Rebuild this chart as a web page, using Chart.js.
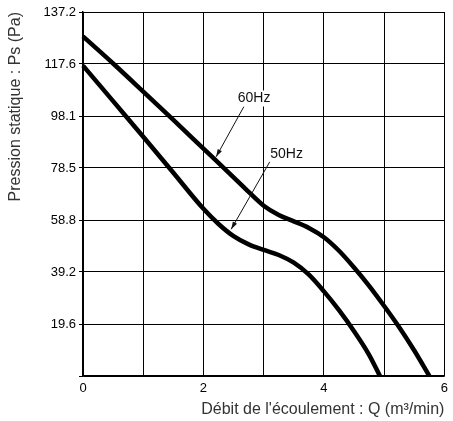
<!DOCTYPE html>
<html>
<head>
<meta charset="utf-8">
<script src="https://cdn.jsdelivr.net/npm/chart.js@4.4.1/dist/chart.umd.min.js"></script>
<style>
  html, body { margin: 0; padding: 0; background: #fff; }
  #wrap { width: 453px; height: 421px; position: relative; }
</style>
</head>
<body>
<div id="wrap"><canvas id="fan-chart"></canvas></div>
<script>
// flow Q (m3/min) and static pressure Ps (Pa)
const q60 = [0, 0.5, 1, 1.5, 2, 2.5, 2.75, 3, 3.25, 3.5, 3.75, 4, 4.25, 4.5, 4.75, 5, 5.25, 5.5, 5.75];
const ps60 = [128, 117.8, 107.2, 96.5, 85.7, 74.9, 69.4, 64.2, 60.7, 58.3, 55.8, 52.3, 47.2, 40.9, 34, 26.4, 18.4, 9.6, 0];

const q50 = [0, 0.5, 1, 1.5, 2, 2.25, 2.5, 2.75, 3, 3.25, 3.5, 3.75, 4, 4.25, 4.5, 4.75, 4.93];
const ps50 = [117, 103.6, 90.2, 76.6, 63, 57.3, 52.7, 49.6, 47.5, 45.6, 42.7, 38.2, 31.9, 24.8, 16.9, 8, 0];

// y gridlines sit every 19.6 Pa, the printed labels are rounded
const yTickValues = [0, 19.6, 39.2, 58.8, 78.4, 98.0, 117.6, 137.2];
const yTickLabels = ["", "19.6", "39.2", "58.8", "78.5", "98.1", "117.6", "137.2"];
const xTickLabels = { 0: "0", 2: "2", 4: "4", 6: "6" };

// callouts: label position, arrow start, arrow tip (data coords)
const callouts = [
  { text: "60Hz", label: [2.84, 104.6], from: [2.67, 101.5], to: [2.21, 82.6] },
  { text: "50Hz", label: [3.38, 83.7], from: [3.10, 80.7], to: [2.46, 55.3] },
];

const FONT = "'Liberation Sans', Arial, sans-serif";

const toPoints = (xs, ys) => xs.map((x, i) => ({ x: x, y: ys[i] }));

const calloutPlugin = {
  id: "callouts",
  afterDatasetsDraw(chart) {
    const { ctx, scales } = chart;
    const px = (p) => [scales.x.getPixelForValue(p[0]), scales.y.getPixelForValue(p[1])];
    ctx.save();
    callouts.forEach((c) => {
      const [lx, ly] = px(c.label);
      const [fx, fy] = px(c.from);
      const [tx, ty] = px(c.to);
      ctx.fillStyle = "#fff";
      ctx.font = "14px " + FONT;
      const w = ctx.measureText(c.text).width;
      ctx.fillRect(lx - w / 2 - 1, ly - 8, w + 2, 16);
      ctx.fillStyle = "#111";
      ctx.textAlign = "center";
      ctx.textBaseline = "middle";
      ctx.fillText(c.text, lx, ly);
      // arrow line
      ctx.strokeStyle = "#111";
      ctx.lineWidth = 1;
      ctx.beginPath();
      ctx.moveTo(fx, fy);
      ctx.lineTo(tx, ty);
      ctx.stroke();
      // arrow head
      const a = Math.atan2(ty - fy, tx - fx);
      const len = 8, spread = 0.3;
      ctx.beginPath();
      ctx.moveTo(tx, ty);
      ctx.lineTo(tx - len * Math.cos(a - spread), ty - len * Math.sin(a - spread));
      ctx.lineTo(tx - len * Math.cos(a + spread), ty - len * Math.sin(a + spread));
      ctx.closePath();
      ctx.fillStyle = "#111";
      ctx.fill();
    });
    ctx.restore();
  },
};

const ctx = document.getElementById("fan-chart");
const chart = new Chart(ctx, {
  type: "line",
  data: {
    datasets: [
      {
        label: "60Hz",
        data: toPoints(q60, ps60),
        borderColor: "#000",
        borderWidth: 4.5,
        pointRadius: 0,
        cubicInterpolationMode: "monotone",
        clip: false,
      },
      {
        label: "50Hz",
        data: toPoints(q50, ps50),
        borderColor: "#000",
        borderWidth: 4.5,
        pointRadius: 0,
        cubicInterpolationMode: "monotone",
        clip: false,
      },
    ],
  },
  plugins: [calloutPlugin],
  options: {
    responsive: true,
    maintainAspectRatio: false,
    animation: false,
    layout: { padding: { top: 12, right: 6, left: 0, bottom: 0 } },
    plugins: {
      legend: { display: false },
      tooltip: { enabled: false },
    },
    scales: {
      x: {
        type: "linear",
        min: 0,
        max: 6,
        ticks: {
          stepSize: 1,
          color: "#000",
          font: { family: FONT, size: 13 },
          padding: 5,
          maxRotation: 0,
          callback: (v) => xTickLabels[v] ?? "",
        },
        grid: { color: "#000", lineWidth: 1, drawTicks: false },
        border: { color: "#000", width: 1.5 },
        title: {
          display: true,
          text: "Débit de l'écoulement : Q (m³/min)",
          align: "end",
          color: "#333",
          font: { family: FONT, size: 16 },
          padding: { top: 2, bottom: 2 },
        },
        afterFit: (s) => { s.height = 45; },
      },
      y: {
        type: "linear",
        min: 0,
        max: 137.2,
        afterBuildTicks: (s) => { s.ticks = yTickValues.map((v) => ({ value: v })); },
        ticks: {
          color: "#000",
          font: { family: FONT, size: 13 },
          padding: 3,
          callback: (v, i) => yTickLabels[i],
        },
        grid: { color: "#000", lineWidth: 1, tickLength: 4 },
        border: { color: "#000", width: 1.5 },
        title: {
          display: true,
          text: "Pression statique : Ps (Pa)",
          align: "end",
          color: "#333",
          font: { family: FONT, size: 16 },
          padding: { top: 6, bottom: 0 },
        },
        afterFit: (s) => { s.width = 83; },
      },
    },
  },
});
</script>
</body>
</html>
